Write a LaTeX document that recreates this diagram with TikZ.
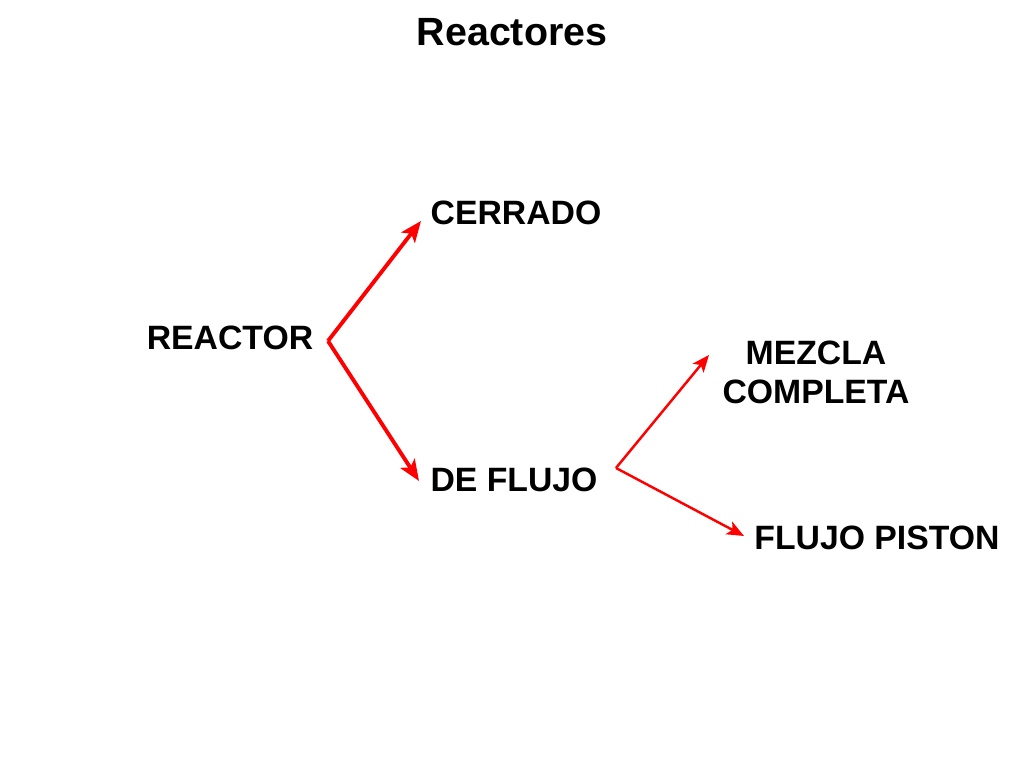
\documentclass[tikz,border=0pt]{standalone}
\usepackage{fontspec}
\setmainfont{Liberation Sans}
\usetikzlibrary{arrows.meta}

\tikzset{%
  every label/.style={
    font=\fontsize{9.6}{11.1}\selectfont\bfseries,
    align=center,
    inner sep=0pt
  },
  title label/.style={
    font=\fontsize{11.2}{13}\selectfont\bfseries,
    inner sep=0pt
  },
  big branch/.style={
    draw=red,
    line width=1.1pt,
    -{Stealth[length=2.1mm,width=1.7mm,inset=0.5mm]}
  },
  small branch/.style={
    draw=red,
    line width=0.7pt,
    -{Stealth[length=1.7mm,width=1.4mm,inset=0.4mm]}
  },
}

\begin{document}
\begin{tikzpicture}[x=0.01cm, y=-0.01cm]
\useasboundingbox (0,0) rectangle (1024,768);

\node [title label] (title) at (512,32) {Reactores};

\node [every label] (reactor) at (230,338) {REACTOR};
\node [every label] (cerrado) at (516,213) {CERRADO};
\node [every label] (flujo) at (514,480) {DE FLUJO};
\node [every label] (mezcla) at (816,372) {MEZCLA\\COMPLETA};
\node [every label] (piston) at (877,538) {FLUJO PISTON};

% split points and tips
\coordinate (reactor-out) at (328,341);
\coordinate (cerrado-in) at (421,221);
\coordinate (flujo-in) at (419,481);
\coordinate (flujo-out) at (616,468);
\coordinate (mezcla-in) at (709,355);
\coordinate (piston-in) at (744,536);

\foreach \t in {cerrado-in, flujo-in}
  \draw [big branch] (reactor-out) -- (\t);

\foreach \t in {mezcla-in, piston-in}
  \draw [small branch] (flujo-out) -- (\t);

\end{tikzpicture}
\end{document}
